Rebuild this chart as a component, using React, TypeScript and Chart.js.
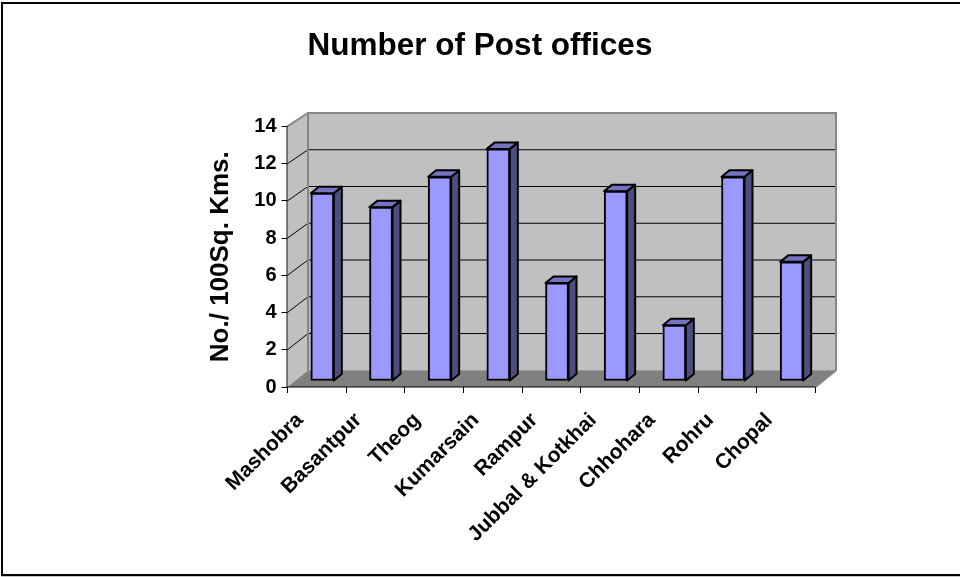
import React, { useEffect, useRef } from "react";
import { Chart, registerables } from "chart.js";

Chart.register(...registerables);

const categories = ["Mashobra", "Basantpur", "Theog", "Kumarsain", "Rampur", "Jubbal & Kotkhai", "Chhohara", "Rohru", "Chopal"];
const postOffices = [10.09, 9.34, 10.97, 12.47, 5.27, 10.2, 3.0, 10.97, 6.4];
const yTicks = [0, 2, 4, 6, 8, 10, 12, 14];
const chartTitle = "Number of Post offices";
const yTitle = "No./ 100Sq. Kms.";

const FONT = "'Liberation Sans', Arial, sans-serif";
const C = {
  wall: "#C0C0C0",
  floor: "#808080",
  edge: "#868686",
  front: "#9999FF",
  side: "#4D4D80",
  top: "#7373BF",
};
// 3D projection constants
const DEPTH_X = 20.5; // axis plane -> back wall
const DEPTH_Y0 = 16.7; // at zero
const DEPTH_Y14 = 13.4; // at top
const BAR_DX = 5.5; // axis plane -> bar front
const BAR_DY = 6;
const BAR_W = 23;
const BAR_SIDE_X = 8;
const BAR_SIDE_Y = 6.5;

const threeD = {
  id: "threeD",
  beforeDatasetsDraw(chart: any) {
    const { ctx, chartArea: a, scales } = chart;
    const y = scales.y;
    const backY = (v: number) => y.getPixelForValue(v) - (DEPTH_Y0 + (DEPTH_Y14 - DEPTH_Y0) * (v / 14));
    const bx = a.left + DEPTH_X;
    const bRight = a.right + DEPTH_X;
    ctx.save();
    // side wall
    ctx.fillStyle = C.wall;
    ctx.beginPath();
    ctx.moveTo(a.left, y.getPixelForValue(14));
    ctx.lineTo(bx, backY(14));
    ctx.lineTo(bx, backY(0));
    ctx.lineTo(a.left, y.getPixelForValue(0));
    ctx.closePath();
    ctx.fill();
    // back wall
    ctx.fillRect(bx, backY(14), bRight - bx, backY(0) - backY(14));
    // floor
    ctx.fillStyle = C.floor;
    ctx.beginPath();
    ctx.moveTo(a.left, y.getPixelForValue(0));
    ctx.lineTo(bx, backY(0));
    ctx.lineTo(bRight, backY(0));
    ctx.lineTo(a.right, y.getPixelForValue(0));
    ctx.closePath();
    ctx.fill();
    // gridlines
    ctx.strokeStyle = "#000";
    ctx.lineWidth = 1;
    yTicks.forEach((v) => {
      if (v === 0 || v === 14) return;
      ctx.beginPath();
      ctx.moveTo(a.left, y.getPixelForValue(v));
      ctx.lineTo(bx, backY(v));
      ctx.lineTo(bRight, backY(v));
      ctx.stroke();
    });
    // wall edges
    ctx.strokeStyle = C.edge;
    ctx.lineWidth = 2;
    ctx.beginPath();
    ctx.moveTo(a.left, y.getPixelForValue(14));
    ctx.lineTo(bx, backY(14));
    ctx.lineTo(bRight, backY(14));
    ctx.lineTo(bRight, backY(0));
    ctx.lineTo(a.right, y.getPixelForValue(0));
    ctx.moveTo(bx, backY(14));
    ctx.lineTo(bx, backY(0));
    ctx.stroke();
    ctx.restore();
    // axis lines at the front plane
    ctx.save();
    ctx.strokeStyle = "#000";
    ctx.lineWidth = 1;
    ctx.beginPath();
    ctx.moveTo(a.left - 0.5, y.getPixelForValue(14));
    ctx.lineTo(a.left - 0.5, y.getPixelForValue(0));
    ctx.lineTo(a.right, y.getPixelForValue(0));
    ctx.stroke();
    ctx.restore();
    // side and top faces of the bars
    const meta = chart.getDatasetMeta(0);
    ctx.save();
    ctx.strokeStyle = "#000";
    ctx.lineWidth = 2;
    ctx.lineJoin = "round";
    meta.data.forEach((bar: any) => {
      const l = bar.x - BAR_W / 2 + BAR_DX;
      const r = l + BAR_W;
      const t = bar.y - BAR_DY;
      const b = bar.base - BAR_DY;
      ctx.fillStyle = C.side;
      ctx.beginPath();
      ctx.moveTo(r, t);
      ctx.lineTo(r + BAR_SIDE_X, t - BAR_SIDE_Y);
      ctx.lineTo(r + BAR_SIDE_X, b - BAR_SIDE_Y);
      ctx.lineTo(r, b);
      ctx.closePath();
      ctx.fill();
      ctx.stroke();
      ctx.fillStyle = C.top;
      ctx.beginPath();
      ctx.moveTo(l, t);
      ctx.lineTo(l + BAR_SIDE_X, t - BAR_SIDE_Y);
      ctx.lineTo(r + BAR_SIDE_X, t - BAR_SIDE_Y);
      ctx.lineTo(r, t);
      ctx.closePath();
      ctx.fill();
      ctx.stroke();
    });
    ctx.restore();
    ctx.save();
    ctx.translate(BAR_DX, -BAR_DY);
  },
  afterDatasetsDraw(chart: any) {
    chart.ctx.restore();
  },
  beforeDraw(chart: any) {
    const { ctx, width, height } = chart;
    ctx.save();
    ctx.fillStyle = "#fff";
    ctx.fillRect(0, 0, width, height);
    ctx.strokeStyle = "#000";
    ctx.lineWidth = 2;
    ctx.beginPath();
    ctx.moveTo(width, 3);
    ctx.lineTo(2, 3);
    ctx.lineTo(2, height - 2);
    ctx.lineTo(width, height - 2);
    ctx.stroke();
    ctx.fillStyle = "#C8C8C8";
    ctx.fillRect(1, height - 1, width - 1, 1);
    ctx.restore();
  },
};

export default function App() {
  const ref = useRef<HTMLCanvasElement>(null);
  useEffect(() => {
    document.body.style.margin = "0";
    const chart = new Chart(ref.current!, {
      type: "bar",
      data: {
        labels: categories,
        datasets: [
          {
            data: postOffices,
            backgroundColor: C.front,
            borderColor: "#000",
            borderWidth: 2,
            borderSkipped: false,
            barThickness: BAR_W,
          },
        ],
      },
      plugins: [threeD],
      options: {
        animation: false,
        responsive: false,
        plugins: {
          legend: { display: false },
          tooltip: { enabled: false },
          title: {
            display: true,
            text: chartTitle,
            color: "#000",
            font: { family: FONT, size: 31.5, weight: "bold", lineHeight: 1.2 },
            padding: { top: 27, bottom: 61.6 },
          },
        },
        scales: {
          x: {
            grid: { display: true, drawOnChartArea: false, drawTicks: true, tickLength: 6, color: "#000", offset: true },
            border: { display: false },
            ticks: {
              color: "#000",
              font: { family: FONT, size: 21, weight: "bold" },
              maxRotation: 45,
              minRotation: 45,
              labelOffset: -17,
              padding: 15,
              autoSkip: false,
            },
            afterFit(s: any) {
              s.height = 190;
            },
          },
          y: {
            min: 0,
            max: 14,
            afterBuildTicks(s: any) {
              s.ticks = yTicks.map((value) => ({ value }));
            },
            grid: { display: true, drawOnChartArea: false, drawTicks: true, tickLength: 6, color: "#000" },
            border: { display: false },
            ticks: {
              color: "#000",
              font: { family: FONT, size: 20, weight: "bold" },
              padding: 5,
            },
            title: {
              display: true,
              text: yTitle,
              color: "#000",
              font: { family: FONT, size: 26, weight: "bold", lineHeight: 1.2 },
              padding: { top: 205, bottom: 4 },
            },
            afterFit(s: any) {
              s.width = 287.5;
            },
          },
          // reserves the empty band to the right of the plot, so the title stays centred on the page
          spacer: {
            type: "linear",
            position: "right",
            display: true,
            grid: { display: false },
            border: { display: false },
            ticks: { display: false },
            afterFit(s: any) {
              s.width = 144.5;
            },
          },
        },
      } as any,
    });
    return () => chart.destroy();
  }, []);
  return (
    <div style={{ width: 960, height: 577 }}>
      <canvas ref={ref} width={960} height={577} style={{ display: "block" }} />
    </div>
  );
}
